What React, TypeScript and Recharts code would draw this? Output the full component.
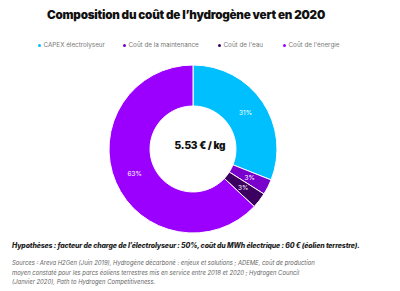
import React from 'react';
import { PieChart, Pie, Cell, Label } from 'recharts';

const categories = ['CAPEX électrolyseur', 'Coût de la maintenance', "Coût de l'eau", "Coût de l'énergie"];
const shares = [31, 3, 3, 63];
const colors = ['#00bfff', '#7a00cc', '#3b0060', '#9b00ff'];
const title = "Composition du coût de l’hydrogène vert en 2020";
const centerText = '5.53 € / kg';
const hypothesis = "Hypothèses : facteur de charge de l’électrolyseur : 50%, coût du MWh électrique : 60 € (éolien terrestre).";
const sourcesLines = [
  "Sources : Areva H2Gen (Juin 2019), Hydrogène décarboné : enjeux et solutions ; ADEME, coût de production",
  "moyen constaté pour les parcs éoliens terrestres mis en service entre 2018 et 2020 ; Hydrogen Council",
  "(Janvier 2020), Path to Hydrogen Competitiveness.",
];

const data = categories.map((name, i) => ({ name, value: shares[i] }));

const RADIAN = Math.PI / 180;
const renderLabel = (props: any) => {
  const { cx, cy, midAngle, innerRadius, outerRadius, value } = props;
  const r = (innerRadius + outerRadius) / 2;
  const x = cx + r * Math.cos(-midAngle * RADIAN);
  const y = cy + r * Math.sin(-midAngle * RADIAN);
  return (
    <text x={x} y={y} fill="#ffffff" fontSize={6.5} fontFamily="Inter, sans-serif" textAnchor="middle" dominantBaseline="central">
      {value}%
    </text>
  );
};

const legendX = [38, 123, 218, 283];

export default function App() {
  return (
    <div style={{ position: 'fixed', left: 0, top: 0, width: 400, height: 291, background: '#fff', fontFamily: 'Inter, sans-serif' }}>
      <div style={{ position: 'absolute', left: 47, top: 8, width: 278, textAlign: 'center', fontSize: 11.7, fontWeight: 900, color: '#111', letterSpacing: -0.25, whiteSpace: 'nowrap' }}>
        {title}
      </div>
      {categories.map((c, i) => (
        <div key={c} style={{ position: 'absolute', left: legendX[i], top: 41, fontSize: 6.3, color: '#777', whiteSpace: 'nowrap', display: 'flex', alignItems: 'center' }}>
          <span style={{ display: 'inline-block', width: 3, height: 3, borderRadius: 1.5, background: colors[i], marginRight: 2.5 }} />
          {c}
        </div>
      ))}
      <div style={{ position: 'absolute', left: 0, top: 0 }}>
        <PieChart width={400} height={291}>
          <Pie
            data={data}
            dataKey="value"
            nameKey="name"
            cx={188}
            cy={144}
            innerRadius={43}
            outerRadius={84}
            startAngle={90}
            endAngle={-270}
            stroke="#ffffff"
            strokeWidth={1}
            label={renderLabel}
            labelLine={false}
            isAnimationActive={false}
          >
            {data.map((d, i) => (
              <Cell key={d.name} fill={colors[i]} />
            ))}
            <Label value={centerText} position="center" fill="#111" fontSize={10} fontWeight={900} letterSpacing={-0.2} fontFamily="Inter, sans-serif" />
          </Pie>
        </PieChart>
      </div>
      <div style={{ position: 'absolute', left: 12, top: 241, fontSize: 7, fontWeight: 800, fontStyle: 'italic', color: '#222', whiteSpace: 'nowrap', letterSpacing: -0.15, lineHeight: '10px' }}>
        {hypothesis}
      </div>
      <div style={{ position: 'absolute', left: 12, top: 258, fontSize: 5.9, fontStyle: 'italic', color: '#666', lineHeight: '9.6px', whiteSpace: 'nowrap' }}>
        {sourcesLines.map((l) => (
          <div key={l}>{l}</div>
        ))}
      </div>
    </div>
  );
}
